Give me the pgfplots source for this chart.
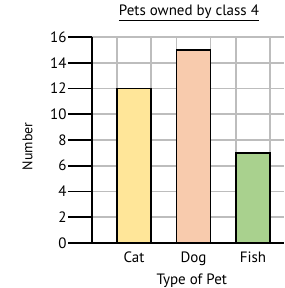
\documentclass[border=0pt]{standalone}
\usepackage{pgfplots}
\pgfplotsset{compat=1.18}
\usepackage{fontspec}
\setmainfont{PT Sans}
\definecolor{catc}{HTML}{FFE699}
\definecolor{dogc}{HTML}{F8CBAD}
\definecolor{fishc}{HTML}{A9D18E}
\definecolor{gridc}{HTML}{BDBDBD}
\begin{document}
\begin{tikzpicture}[x=1pt,y=1pt]
\useasboundingbox (0,0) rectangle (284,288);
\begin{axis}[
  at={(92pt,45pt)}, anchor=south west,
  scale only axis, width=192pt, height=206pt,
  xmin=-0.706, xmax=2.521, ymin=0, ymax=16,
  axis lines=left, axis line style={-, line width=1.8pt, black},
  xtick={0,1,2}, xticklabels={Cat,Dog,Fish},
  x tick style={draw=none},
  ytick={0,2,...,16},
  y tick style={black, line width=1.8pt},
  major tick length=24pt, tick align=outside,
  tick label style={font=\fontsize{15}{15}\selectfont},
  /pgf/number format/assume math mode=true,
  yticklabel style={xshift=2pt},
  xticklabel style={yshift=19pt, anchor=north},
  ymajorgrids, grid style={gridc, line width=1.8pt},
  extra x ticks={-0.286,0.286,0.714,1.286,1.714,2.286},
  extra x tick labels={},
  extra x tick style={grid=major, tick style={draw=none}},
  title={\underline{Pets owned by class 4}},
  title style={at={(rel axis cs:0.505,1.09)}, anchor=center, font=\fontsize{15}{15}\selectfont},
  xlabel={Type of Pet},
  xlabel style={at={(rel axis cs:0.52,-0.185)}, anchor=center, font=\fontsize{15}{15}\selectfont},
  ylabel={Number},
  ylabel style={at={(rel axis cs:-0.336,0.47)}, anchor=center, font=\fontsize{14}{14}\selectfont},
  ybar, bar width=34pt, bar shift=0pt,
  clip=false,
]
\addplot[fill=catc, draw=black, line width=1.8pt] coordinates {(0,12)};
\addplot[fill=dogc, draw=black, line width=1.8pt] coordinates {(1,15)};
\addplot[fill=fishc, draw=black, line width=1.8pt] coordinates {(2,7)};
\end{axis}
\end{tikzpicture}
\end{document}
